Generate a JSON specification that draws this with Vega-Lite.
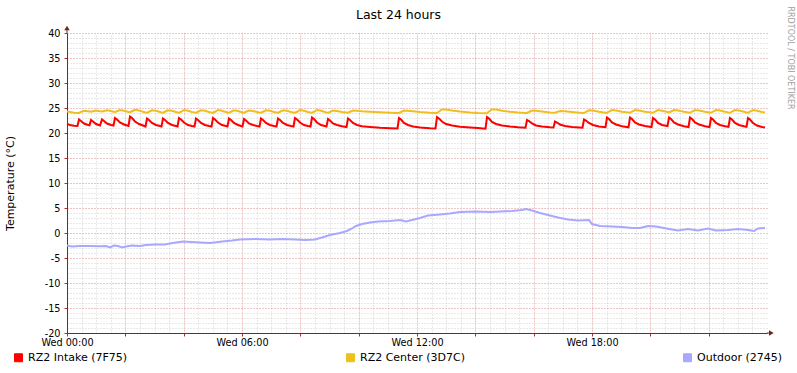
{
  "$schema": "https://vega.github.io/schema/vega-lite/v6.json",
  "width": 700,
  "height": 300,
  "autosize": {"type": "none"},
  "padding": {"left": 67, "top": 33, "right": 30, "bottom": 40},
  "background": "#FFFFFF",
  "config": {
    "font": "DejaVu Sans",
    "view": {"stroke": null},
    "axis": {"labelFont": "DejaVu Sans", "titleFont": "DejaVu Sans"},
    "legend": {"labelFont": "DejaVu Sans"}
  },
  "datasets": {
    "intake": [
      {"hour": 0, "temp": 21.8}, {"hour": 0.103, "temp": 21.6}, {"hour": 0.24, "temp": 21.45}, {"hour": 0.36, "temp": 21.4},
      {"hour": 0.411, "temp": 22.7}, {"hour": 0.48, "temp": 22.4}, {"hour": 0.583, "temp": 21.9}, {"hour": 0.72, "temp": 21.6},
      {"hour": 0.771, "temp": 21.55}, {"hour": 0.823, "temp": 22.6}, {"hour": 0.891, "temp": 22.3}, {"hour": 0.994, "temp": 21.8},
      {"hour": 1.131, "temp": 21.5}, {"hour": 1.2, "temp": 22.7}, {"hour": 1.269, "temp": 22.4}, {"hour": 1.371, "temp": 21.9},
      {"hour": 1.509, "temp": 21.6}, {"hour": 1.594, "temp": 21.5}, {"hour": 1.646, "temp": 23.0}, {"hour": 1.714, "temp": 22.7},
      {"hour": 1.817, "temp": 22.1}, {"hour": 1.954, "temp": 21.7}, {"hour": 2.109, "temp": 21.4}, {"hour": 2.16, "temp": 23.3},
      {"hour": 2.229, "temp": 23.0}, {"hour": 2.331, "temp": 22.3}, {"hour": 2.469, "temp": 21.8}, {"hour": 2.606, "temp": 21.5},
      {"hour": 2.691, "temp": 21.3}, {"hour": 2.743, "temp": 22.9}, {"hour": 2.811, "temp": 22.6}, {"hour": 2.914, "temp": 22.0},
      {"hour": 3.051, "temp": 21.6}, {"hour": 3.189, "temp": 21.4}, {"hour": 3.24, "temp": 21.3}, {"hour": 3.291, "temp": 22.9},
      {"hour": 3.36, "temp": 22.6}, {"hour": 3.463, "temp": 22.0}, {"hour": 3.6, "temp": 21.6}, {"hour": 3.737, "temp": 21.4},
      {"hour": 3.789, "temp": 21.3}, {"hour": 3.84, "temp": 23.0}, {"hour": 3.909, "temp": 22.7}, {"hour": 4.011, "temp": 22.1},
      {"hour": 4.149, "temp": 21.6}, {"hour": 4.286, "temp": 21.4}, {"hour": 4.371, "temp": 21.3}, {"hour": 4.423, "temp": 22.9},
      {"hour": 4.491, "temp": 22.6}, {"hour": 4.594, "temp": 22.0}, {"hour": 4.731, "temp": 21.6}, {"hour": 4.869, "temp": 21.4},
      {"hour": 4.954, "temp": 21.3}, {"hour": 5.006, "temp": 23.0}, {"hour": 5.074, "temp": 22.7}, {"hour": 5.177, "temp": 22.1},
      {"hour": 5.314, "temp": 21.6}, {"hour": 5.451, "temp": 21.4}, {"hour": 5.503, "temp": 21.3}, {"hour": 5.554, "temp": 22.9},
      {"hour": 5.623, "temp": 22.6}, {"hour": 5.726, "temp": 22.0}, {"hour": 5.863, "temp": 21.6}, {"hour": 6.017, "temp": 21.3},
      {"hour": 6.069, "temp": 22.8}, {"hour": 6.137, "temp": 22.5}, {"hour": 6.24, "temp": 21.9}, {"hour": 6.377, "temp": 21.6},
      {"hour": 6.514, "temp": 21.4}, {"hour": 6.6, "temp": 21.3}, {"hour": 6.651, "temp": 22.9}, {"hour": 6.72, "temp": 22.6},
      {"hour": 6.823, "temp": 22.0}, {"hour": 6.96, "temp": 21.6}, {"hour": 7.097, "temp": 21.4}, {"hour": 7.183, "temp": 21.3},
      {"hour": 7.234, "temp": 22.9}, {"hour": 7.303, "temp": 22.6}, {"hour": 7.406, "temp": 22.0}, {"hour": 7.543, "temp": 21.6},
      {"hour": 7.68, "temp": 21.4}, {"hour": 7.766, "temp": 21.3}, {"hour": 7.817, "temp": 23.0}, {"hour": 7.886, "temp": 22.7},
      {"hour": 7.989, "temp": 22.1}, {"hour": 8.126, "temp": 21.6}, {"hour": 8.263, "temp": 21.4}, {"hour": 8.349, "temp": 21.3},
      {"hour": 8.4, "temp": 23.1}, {"hour": 8.469, "temp": 22.8}, {"hour": 8.571, "temp": 22.1}, {"hour": 8.709, "temp": 21.6},
      {"hour": 8.897, "temp": 21.3}, {"hour": 8.949, "temp": 22.8}, {"hour": 9.017, "temp": 22.5}, {"hour": 9.12, "temp": 21.9},
      {"hour": 9.257, "temp": 21.6}, {"hour": 9.429, "temp": 21.35}, {"hour": 9.583, "temp": 21.2}, {"hour": 9.634, "temp": 22.9},
      {"hour": 9.703, "temp": 22.6}, {"hour": 9.806, "temp": 22.0}, {"hour": 9.943, "temp": 21.6}, {"hour": 10.114, "temp": 21.35},
      {"hour": 10.389, "temp": 21.2}, {"hour": 10.731, "temp": 21.05}, {"hour": 11.074, "temp": 20.95}, {"hour": 11.331, "temp": 20.9},
      {"hour": 11.383, "temp": 23.0}, {"hour": 11.451, "temp": 22.7}, {"hour": 11.554, "temp": 22.0}, {"hour": 11.691, "temp": 21.6},
      {"hour": 11.863, "temp": 21.3}, {"hour": 12.103, "temp": 21.1}, {"hour": 12.446, "temp": 20.95}, {"hour": 12.634, "temp": 20.9},
      {"hour": 12.686, "temp": 23.2}, {"hour": 12.754, "temp": 22.9}, {"hour": 12.857, "temp": 22.3}, {"hour": 12.994, "temp": 21.8},
      {"hour": 13.2, "temp": 21.5}, {"hour": 13.474, "temp": 21.25}, {"hour": 13.817, "temp": 21.1}, {"hour": 14.091, "temp": 21.0},
      {"hour": 14.349, "temp": 20.85}, {"hour": 14.4, "temp": 23.2}, {"hour": 14.469, "temp": 22.9}, {"hour": 14.571, "temp": 22.2},
      {"hour": 14.709, "temp": 21.8}, {"hour": 14.914, "temp": 21.5}, {"hour": 15.189, "temp": 21.3}, {"hour": 15.463, "temp": 21.15},
      {"hour": 15.72, "temp": 21.05}, {"hour": 15.771, "temp": 22.6}, {"hour": 15.84, "temp": 22.4}, {"hour": 15.943, "temp": 21.9},
      {"hour": 16.08, "temp": 21.5}, {"hour": 16.286, "temp": 21.3}, {"hour": 16.56, "temp": 21.15}, {"hour": 16.68, "temp": 21.1},
      {"hour": 16.731, "temp": 22.3}, {"hour": 16.8, "temp": 22.1}, {"hour": 16.903, "temp": 21.7}, {"hour": 17.074, "temp": 21.4},
      {"hour": 17.314, "temp": 21.2}, {"hour": 17.674, "temp": 21.05}, {"hour": 17.726, "temp": 22.7}, {"hour": 17.794, "temp": 22.5},
      {"hour": 17.897, "temp": 22.0}, {"hour": 18.034, "temp": 21.6}, {"hour": 18.24, "temp": 21.3}, {"hour": 18.463, "temp": 21.15},
      {"hour": 18.514, "temp": 23.1}, {"hour": 18.583, "temp": 22.8}, {"hour": 18.686, "temp": 22.1}, {"hour": 18.823, "temp": 21.7},
      {"hour": 19.029, "temp": 21.35}, {"hour": 19.251, "temp": 21.15}, {"hour": 19.303, "temp": 23.1}, {"hour": 19.371, "temp": 22.8},
      {"hour": 19.474, "temp": 22.1}, {"hour": 19.611, "temp": 21.7}, {"hour": 19.817, "temp": 21.4}, {"hour": 20.04, "temp": 21.2},
      {"hour": 20.091, "temp": 23.0}, {"hour": 20.16, "temp": 22.7}, {"hour": 20.263, "temp": 22.0}, {"hour": 20.4, "temp": 21.6},
      {"hour": 20.589, "temp": 21.4}, {"hour": 20.64, "temp": 23.1}, {"hour": 20.709, "temp": 22.8}, {"hour": 20.811, "temp": 22.1},
      {"hour": 20.949, "temp": 21.7}, {"hour": 21.154, "temp": 21.35}, {"hour": 21.309, "temp": 21.2}, {"hour": 21.36, "temp": 23.1},
      {"hour": 21.429, "temp": 22.8}, {"hour": 21.531, "temp": 22.1}, {"hour": 21.669, "temp": 21.7}, {"hour": 21.874, "temp": 21.35},
      {"hour": 22.029, "temp": 21.2}, {"hour": 22.08, "temp": 23.0}, {"hour": 22.149, "temp": 22.7}, {"hour": 22.251, "temp": 22.0},
      {"hour": 22.389, "temp": 21.6}, {"hour": 22.56, "temp": 21.35}, {"hour": 22.68, "temp": 21.25}, {"hour": 22.731, "temp": 23.0},
      {"hour": 22.8, "temp": 22.7}, {"hour": 22.903, "temp": 22.0}, {"hour": 23.04, "temp": 21.6}, {"hour": 23.211, "temp": 21.35},
      {"hour": 23.297, "temp": 21.25}, {"hour": 23.349, "temp": 23.0}, {"hour": 23.417, "temp": 22.7}, {"hour": 23.52, "temp": 22.0},
      {"hour": 23.657, "temp": 21.5}, {"hour": 23.829, "temp": 21.2}, {"hour": 23.931, "temp": 21.1}
    ],
    "center": [
      {"hour": 0, "temp": 24.3}, {"hour": 0.103, "temp": 24.2}, {"hour": 0.24, "temp": 24.05}, {"hour": 0.36, "temp": 24.0},
      {"hour": 0.411, "temp": 24.0}, {"hour": 0.48, "temp": 24.2}, {"hour": 0.583, "temp": 24.45}, {"hour": 0.72, "temp": 24.35},
      {"hour": 0.771, "temp": 24.3}, {"hour": 0.823, "temp": 24.25}, {"hour": 0.891, "temp": 24.35}, {"hour": 0.994, "temp": 24.5},
      {"hour": 1.131, "temp": 24.35}, {"hour": 1.2, "temp": 24.3}, {"hour": 1.269, "temp": 24.4}, {"hour": 1.371, "temp": 24.55},
      {"hour": 1.509, "temp": 24.4}, {"hour": 1.594, "temp": 24.25}, {"hour": 1.646, "temp": 24.2}, {"hour": 1.714, "temp": 24.35},
      {"hour": 1.817, "temp": 24.6}, {"hour": 1.954, "temp": 24.45}, {"hour": 2.109, "temp": 24.2}, {"hour": 2.16, "temp": 24.15},
      {"hour": 2.229, "temp": 24.35}, {"hour": 2.331, "temp": 24.65}, {"hour": 2.469, "temp": 24.5}, {"hour": 2.606, "temp": 24.25},
      {"hour": 2.691, "temp": 24.1}, {"hour": 2.743, "temp": 24.05}, {"hour": 2.811, "temp": 24.25}, {"hour": 2.914, "temp": 24.55},
      {"hour": 3.051, "temp": 24.45}, {"hour": 3.189, "temp": 24.2}, {"hour": 3.24, "temp": 24.1}, {"hour": 3.291, "temp": 24.05},
      {"hour": 3.36, "temp": 24.25}, {"hour": 3.463, "temp": 24.55}, {"hour": 3.6, "temp": 24.45}, {"hour": 3.737, "temp": 24.2},
      {"hour": 3.789, "temp": 24.1}, {"hour": 3.84, "temp": 24.05}, {"hour": 3.909, "temp": 24.25}, {"hour": 4.011, "temp": 24.6},
      {"hour": 4.149, "temp": 24.45}, {"hour": 4.286, "temp": 24.2}, {"hour": 4.371, "temp": 24.1}, {"hour": 4.423, "temp": 24.05},
      {"hour": 4.491, "temp": 24.25}, {"hour": 4.594, "temp": 24.55}, {"hour": 4.731, "temp": 24.45}, {"hour": 4.869, "temp": 24.2},
      {"hour": 4.954, "temp": 24.1}, {"hour": 5.006, "temp": 24.05}, {"hour": 5.074, "temp": 24.25}, {"hour": 5.177, "temp": 24.6},
      {"hour": 5.314, "temp": 24.45}, {"hour": 5.451, "temp": 24.2}, {"hour": 5.503, "temp": 24.1}, {"hour": 5.554, "temp": 24.05},
      {"hour": 5.623, "temp": 24.25}, {"hour": 5.726, "temp": 24.55}, {"hour": 5.863, "temp": 24.4}, {"hour": 6.017, "temp": 24.1},
      {"hour": 6.069, "temp": 24.05}, {"hour": 6.137, "temp": 24.25}, {"hour": 6.24, "temp": 24.5}, {"hour": 6.377, "temp": 24.4},
      {"hour": 6.514, "temp": 24.2}, {"hour": 6.6, "temp": 24.1}, {"hour": 6.651, "temp": 24.05}, {"hour": 6.72, "temp": 24.25},
      {"hour": 6.823, "temp": 24.55}, {"hour": 6.96, "temp": 24.45}, {"hour": 7.097, "temp": 24.2}, {"hour": 7.183, "temp": 24.1},
      {"hour": 7.234, "temp": 24.05}, {"hour": 7.303, "temp": 24.25}, {"hour": 7.406, "temp": 24.55}, {"hour": 7.543, "temp": 24.45},
      {"hour": 7.68, "temp": 24.2}, {"hour": 7.766, "temp": 24.1}, {"hour": 7.817, "temp": 24.05}, {"hour": 7.886, "temp": 24.25},
      {"hour": 7.989, "temp": 24.6}, {"hour": 8.126, "temp": 24.45}, {"hour": 8.263, "temp": 24.2}, {"hour": 8.349, "temp": 24.1},
      {"hour": 8.4, "temp": 24.05}, {"hour": 8.469, "temp": 24.25}, {"hour": 8.571, "temp": 24.6}, {"hour": 8.709, "temp": 24.45},
      {"hour": 8.897, "temp": 24.1}, {"hour": 8.949, "temp": 24.05}, {"hour": 9.017, "temp": 24.2}, {"hour": 9.12, "temp": 24.5},
      {"hour": 9.257, "temp": 24.4}, {"hour": 9.429, "temp": 24.2}, {"hour": 9.583, "temp": 24.1}, {"hour": 9.634, "temp": 24.05},
      {"hour": 9.703, "temp": 24.25}, {"hour": 9.806, "temp": 24.5}, {"hour": 9.943, "temp": 24.45}, {"hour": 10.114, "temp": 24.35},
      {"hour": 10.389, "temp": 24.25}, {"hour": 10.731, "temp": 24.15}, {"hour": 11.074, "temp": 24.05}, {"hour": 11.331, "temp": 24.0},
      {"hour": 11.383, "temp": 24.0}, {"hour": 11.451, "temp": 24.2}, {"hour": 11.554, "temp": 24.5}, {"hour": 11.691, "temp": 24.45},
      {"hour": 11.863, "temp": 24.35}, {"hour": 12.103, "temp": 24.2}, {"hour": 12.446, "temp": 24.05}, {"hour": 12.634, "temp": 24.0},
      {"hour": 12.686, "temp": 23.95}, {"hour": 12.754, "temp": 24.3}, {"hour": 12.857, "temp": 24.7}, {"hour": 12.994, "temp": 24.7},
      {"hour": 13.2, "temp": 24.5}, {"hour": 13.474, "temp": 24.3}, {"hour": 13.817, "temp": 24.1}, {"hour": 14.091, "temp": 24.0},
      {"hour": 14.349, "temp": 23.95}, {"hour": 14.4, "temp": 23.95}, {"hour": 14.469, "temp": 24.3}, {"hour": 14.571, "temp": 24.7},
      {"hour": 14.709, "temp": 24.7}, {"hour": 14.914, "temp": 24.45}, {"hour": 15.189, "temp": 24.25}, {"hour": 15.463, "temp": 24.1},
      {"hour": 15.72, "temp": 24.0}, {"hour": 15.771, "temp": 24.0}, {"hour": 15.84, "temp": 24.2}, {"hour": 15.943, "temp": 24.5},
      {"hour": 16.08, "temp": 24.45}, {"hour": 16.286, "temp": 24.3}, {"hour": 16.56, "temp": 24.1}, {"hour": 16.68, "temp": 24.05},
      {"hour": 16.731, "temp": 24.05}, {"hour": 16.8, "temp": 24.2}, {"hour": 16.903, "temp": 24.4}, {"hour": 17.074, "temp": 24.35},
      {"hour": 17.314, "temp": 24.2}, {"hour": 17.674, "temp": 24.0}, {"hour": 17.726, "temp": 24.0}, {"hour": 17.794, "temp": 24.25},
      {"hour": 17.897, "temp": 24.55}, {"hour": 18.034, "temp": 24.5}, {"hour": 18.24, "temp": 24.25}, {"hour": 18.463, "temp": 24.05},
      {"hour": 18.514, "temp": 24.05}, {"hour": 18.583, "temp": 24.3}, {"hour": 18.686, "temp": 24.6}, {"hour": 18.823, "temp": 24.5},
      {"hour": 19.029, "temp": 24.25}, {"hour": 19.251, "temp": 24.1}, {"hour": 19.303, "temp": 24.05}, {"hour": 19.371, "temp": 24.3},
      {"hour": 19.474, "temp": 24.6}, {"hour": 19.611, "temp": 24.5}, {"hour": 19.817, "temp": 24.25}, {"hour": 20.04, "temp": 24.1},
      {"hour": 20.091, "temp": 24.05}, {"hour": 20.16, "temp": 24.3}, {"hour": 20.263, "temp": 24.6}, {"hour": 20.4, "temp": 24.45},
      {"hour": 20.589, "temp": 24.2}, {"hour": 20.64, "temp": 24.1}, {"hour": 20.709, "temp": 24.3}, {"hour": 20.811, "temp": 24.6},
      {"hour": 20.949, "temp": 24.5}, {"hour": 21.154, "temp": 24.25}, {"hour": 21.309, "temp": 24.1}, {"hour": 21.36, "temp": 24.05},
      {"hour": 21.429, "temp": 24.3}, {"hour": 21.531, "temp": 24.6}, {"hour": 21.669, "temp": 24.5}, {"hour": 21.874, "temp": 24.25},
      {"hour": 22.029, "temp": 24.1}, {"hour": 22.08, "temp": 24.05}, {"hour": 22.149, "temp": 24.3}, {"hour": 22.251, "temp": 24.6},
      {"hour": 22.389, "temp": 24.5}, {"hour": 22.56, "temp": 24.25}, {"hour": 22.68, "temp": 24.1}, {"hour": 22.731, "temp": 24.05},
      {"hour": 22.8, "temp": 24.3}, {"hour": 22.903, "temp": 24.6}, {"hour": 23.04, "temp": 24.5}, {"hour": 23.211, "temp": 24.25},
      {"hour": 23.297, "temp": 24.1}, {"hour": 23.349, "temp": 24.05}, {"hour": 23.417, "temp": 24.3}, {"hour": 23.52, "temp": 24.6},
      {"hour": 23.657, "temp": 24.45}, {"hour": 23.829, "temp": 24.2}, {"hour": 23.931, "temp": 24.1}
    ],
    "outdoor": [
      {"hour": 0, "temp": -2.5}, {"hour": 0.171, "temp": -2.7}, {"hour": 0.446, "temp": -2.6}, {"hour": 0.789, "temp": -2.6},
      {"hour": 1.131, "temp": -2.65}, {"hour": 1.337, "temp": -2.6}, {"hour": 1.474, "temp": -2.9}, {"hour": 1.611, "temp": -2.5},
      {"hour": 1.749, "temp": -2.6}, {"hour": 1.886, "temp": -2.9}, {"hour": 2.023, "temp": -2.7}, {"hour": 2.229, "temp": -2.5},
      {"hour": 2.503, "temp": -2.6}, {"hour": 2.709, "temp": -2.4}, {"hour": 3.017, "temp": -2.3}, {"hour": 3.36, "temp": -2.3},
      {"hour": 3.531, "temp": -2.1}, {"hour": 3.737, "temp": -1.9}, {"hour": 3.977, "temp": -1.7}, {"hour": 4.286, "temp": -1.8},
      {"hour": 4.56, "temp": -1.9}, {"hour": 4.903, "temp": -2.0}, {"hour": 5.314, "temp": -1.7}, {"hour": 5.657, "temp": -1.5},
      {"hour": 5.931, "temp": -1.3}, {"hour": 6.446, "temp": -1.2}, {"hour": 6.96, "temp": -1.3}, {"hour": 7.371, "temp": -1.2},
      {"hour": 7.817, "temp": -1.3}, {"hour": 8.16, "temp": -1.4}, {"hour": 8.503, "temp": -1.3}, {"hour": 8.743, "temp": -0.9},
      {"hour": 9.017, "temp": -0.4}, {"hour": 9.36, "temp": 0.0}, {"hour": 9.6, "temp": 0.4}, {"hour": 9.771, "temp": 0.9},
      {"hour": 9.909, "temp": 1.4}, {"hour": 10.114, "temp": 1.8}, {"hour": 10.389, "temp": 2.1}, {"hour": 10.663, "temp": 2.3},
      {"hour": 11.074, "temp": 2.4}, {"hour": 11.417, "temp": 2.6}, {"hour": 11.623, "temp": 2.3}, {"hour": 11.897, "temp": 2.7},
      {"hour": 12.103, "temp": 3.0}, {"hour": 12.377, "temp": 3.5}, {"hour": 12.789, "temp": 3.7}, {"hour": 13.131, "temp": 3.9},
      {"hour": 13.474, "temp": 4.2}, {"hour": 13.989, "temp": 4.3}, {"hour": 14.503, "temp": 4.2}, {"hour": 14.846, "temp": 4.3},
      {"hour": 15.257, "temp": 4.4}, {"hour": 15.6, "temp": 4.6}, {"hour": 15.737, "temp": 4.8}, {"hour": 15.943, "temp": 4.5},
      {"hour": 16.217, "temp": 4.0}, {"hour": 16.491, "temp": 3.6}, {"hour": 16.834, "temp": 3.1}, {"hour": 17.177, "temp": 2.7},
      {"hour": 17.52, "temp": 2.5}, {"hour": 17.897, "temp": 2.6}, {"hour": 18.0, "temp": 1.8}, {"hour": 18.274, "temp": 1.4},
      {"hour": 18.686, "temp": 1.3}, {"hour": 19.029, "temp": 1.2}, {"hour": 19.371, "temp": 1.0}, {"hour": 19.646, "temp": 1.0},
      {"hour": 19.92, "temp": 1.4}, {"hour": 20.194, "temp": 1.3}, {"hour": 20.469, "temp": 1.0}, {"hour": 20.743, "temp": 0.7},
      {"hour": 20.949, "temp": 0.5}, {"hour": 21.291, "temp": 0.8}, {"hour": 21.634, "temp": 0.5}, {"hour": 21.977, "temp": 0.9},
      {"hour": 22.251, "temp": 0.5}, {"hour": 22.663, "temp": 0.6}, {"hour": 23.006, "temp": 0.8}, {"hour": 23.349, "temp": 0.6},
      {"hour": 23.554, "temp": 0.4}, {"hour": 23.691, "temp": 0.9}, {"hour": 23.931, "temp": 1.0}
    ]
  },
  "layer": [
    {
      "data": {"name": "intake"},
      "mark": {"type": "point", "opacity": 0},
      "encoding": {
        "x": {
          "field": "hour", "type": "quantitative",
          "scale": {"domain": [0, 24], "nice": false, "zero": false},
          "axis": {
            "orient": "top",
            "values": [0, 0.5, 1, 1.5, 2, 2.5, 3, 3.5, 4, 4.5, 5, 5.5, 6, 6.5, 7, 7.5, 8, 8.5, 9, 9.5, 10, 10.5, 11, 11.5, 12, 12.5, 13, 13.5, 14, 14.5, 15, 15.5, 16, 16.5, 17, 17.5, 18, 18.5, 19, 19.5, 20, 20.5, 21, 21.5, 22, 22.5, 23, 23.5],
            "grid": true, "gridColor": "#808080", "gridOpacity": 0.35, "gridDash": [1, 2], "gridWidth": 1,
            "labels": false, "ticks": false, "domain": false,
            "title": "Last 24 hours", "titleX": 331, "titleY": -15, "titleAlign": "center", "titleBaseline": "alphabetic",
            "titleFontSize": 12.5, "titleFontWeight": "normal", "titleColor": "#000000"
          }
        },
        "y": {
          "field": "temp", "type": "quantitative",
          "scale": {"domain": [-20, 40], "nice": false, "zero": false},
          "axis": {
            "orient": "right",
            "values": [-20, -19, -18, -17, -16, -15, -14, -13, -12, -11, -10, -9, -8, -7, -6, -5, -4, -3, -2, -1, 0, 1, 2, 3, 4, 5, 6, 7, 8, 9, 10, 11, 12, 13, 14, 15, 16, 17, 18, 19, 20, 21, 22, 23, 24, 25, 26, 27, 28, 29, 30, 31, 32, 33, 34, 35, 36, 37, 38, 39, 40],
            "grid": true, "gridColor": "#808080", "gridOpacity": 0.35, "gridDash": [1, 2], "gridWidth": 1,
            "labels": false, "ticks": false, "domain": false,
            "title": "RRDTOOL / TOBI OETIKER", "titleAngle": 90, "titleX": 22, "titleY": -27,
            "titleAlign": "left", "titleBaseline": "middle",
            "titleFontSize": 8, "titleFontWeight": "normal", "titleColor": "#A0A0A0"
          }
        }
      }
    },
    {
      "data": {"name": "intake"},
      "mark": {"type": "line", "strokeWidth": 2},
      "encoding": {
        "x": {
          "field": "hour", "type": "quantitative",
          "scale": {"domain": [0, 24], "nice": false, "zero": false},
          "axis": {
            "orient": "bottom",
            "values": [0, 2, 4, 6, 8, 10, 12, 14, 16, 18, 20, 22],
            "labelExpr": "datum.value % 6 == 0 ? 'Wed ' + (datum.value < 10 ? '0' : '') + datum.value + ':00' : ''",
            "grid": true, "gridColor": "#FF0000", "gridOpacity": 0.3, "gridDash": [1, 2], "gridWidth": 1,
            "domainColor": "#4A3B3B", "domainWidth": 1,
            "tickColor": "#B03030", "tickSize": 3, "tickWidth": 1,
            "labelFontSize": 9.7, "labelColor": "#000000", "labelPadding": 1,
            "labelOverlap": false, "labelFlush": false,
            "title": null
          }
        },
        "y": {
          "field": "temp", "type": "quantitative",
          "scale": {"domain": [-20, 40], "nice": false, "zero": false},
          "axis": {
            "orient": "left",
            "values": [-20, -15, -10, -5, 0, 5, 10, 15, 20, 25, 30, 35, 40],
            "labelExpr": "'' + datum.value",
            "grid": true, "gridColor": "#FF0000", "gridOpacity": 0.3, "gridDash": [1, 2], "gridWidth": 1,
            "domainColor": "#4A3B3B", "domainWidth": 1,
            "tickColor": "#B03030", "tickSize": 3, "tickWidth": 1,
            "labelFontSize": 9.7, "labelColor": "#000000", "labelPadding": 4,
            "title": "Temperature (°C)", "titleX": -57, "titleY": 150, "titleAngle": 270,
            "titleAlign": "center", "titleBaseline": "middle",
            "titleFontSize": 11, "titleFontWeight": "normal", "titleColor": "#000000"
          }
        },
        "color": {
          "datum": "RZ2 Intake (7F75)", "type": "nominal",
          "scale": {"domain": ["RZ2 Intake (7F75)", "RZ2 Center (3D7C)", "Outdoor (2745)"], "range": ["#FF0000", "#ECC11F", "#A8A8FF"]},
          "legend": {
            "orient": "none", "legendX": -54, "legendY": 319, "direction": "horizontal", "title": null,
            "padding": 0, "symbolType": "square", "symbolSize": 64, "symbolStrokeWidth": 1,
            "labelFontSize": 11, "labelColor": "#000000", "labelOffset": 4, "columnPadding": 216,
            "encode": {"symbols": {"update": {"fill": {"scale": "color", "field": "value"}, "stroke": {"value": "#000000"}, "strokeWidth": {"value": 1}, "opacity": {"value": 1}, "fillOpacity": {"value": 1}}}}
          }
        }
      }
    },
    {
      "data": {"name": "center"},
      "mark": {"type": "line", "strokeWidth": 2},
      "encoding": {
        "x": {"field": "hour", "type": "quantitative", "scale": {"domain": [0, 24], "nice": false, "zero": false}, "axis": null},
        "y": {"field": "temp", "type": "quantitative", "scale": {"domain": [-20, 40], "nice": false, "zero": false}, "axis": null},
        "color": {"datum": "RZ2 Center (3D7C)", "type": "nominal"}
      }
    },
    {
      "data": {"name": "outdoor"},
      "mark": {"type": "line", "strokeWidth": 2},
      "encoding": {
        "x": {"field": "hour", "type": "quantitative", "scale": {"domain": [0, 24], "nice": false, "zero": false}, "axis": null},
        "y": {"field": "temp", "type": "quantitative", "scale": {"domain": [-20, 40], "nice": false, "zero": false}, "axis": null},
        "color": {"datum": "Outdoor (2745)", "type": "nominal"}
      }
    },
    {
      "data": {"values": [{}]},
      "mark": {"type": "rule", "color": "#4A3B3B", "strokeWidth": 1, "clip": false},
      "encoding": {
        "x": {"datum": 0, "type": "quantitative", "axis": null},
        "y": {"datum": 40, "type": "quantitative", "axis": null},
        "y2": {"datum": 40.9}
      }
    },
    {
      "data": {"values": [{}]},
      "mark": {"type": "point", "shape": "triangle-up", "filled": true, "size": 30, "color": "#7F2020", "opacity": 1, "clip": false},
      "encoding": {
        "x": {"datum": 0, "type": "quantitative", "axis": null},
        "y": {"datum": 41.0, "type": "quantitative", "axis": null}
      }
    },
    {
      "data": {"values": [{}]},
      "mark": {"type": "rule", "color": "#4A3B3B", "strokeWidth": 1, "clip": false},
      "encoding": {
        "x": {"datum": 24, "type": "quantitative", "axis": null},
        "x2": {"datum": 24.12},
        "y": {"datum": -20, "type": "quantitative", "axis": null}
      }
    },
    {
      "data": {"values": [{}]},
      "mark": {"type": "point", "shape": "triangle-right", "filled": true, "size": 30, "color": "#7F2020", "opacity": 1, "clip": false},
      "encoding": {
        "x": {"datum": 24.15, "type": "quantitative", "axis": null},
        "y": {"datum": -20, "type": "quantitative", "axis": null}
      }
    }
  ],
  "resolve": {"axis": {"x": "independent", "y": "independent"}}
}
